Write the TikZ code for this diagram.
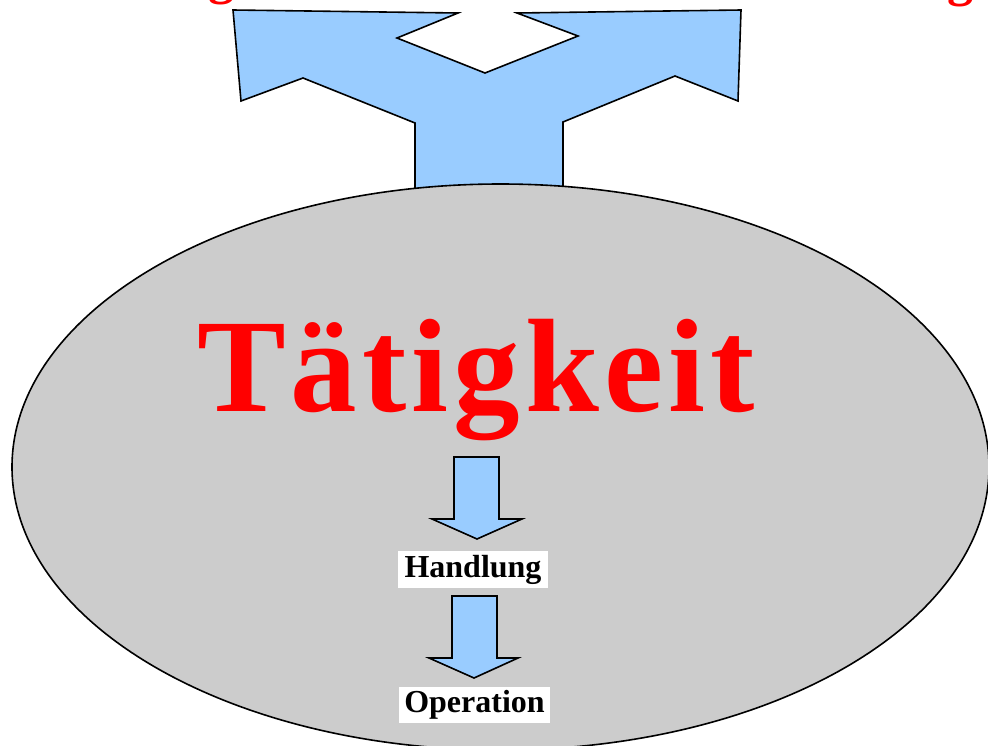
\documentclass[tikz,border=0pt]{standalone}
\usepackage{fontspec}
\setmainfont{Liberation Serif}
\usetikzlibrary{shapes.geometric}
\definecolor{arrowblue}{RGB}{153,204,255}
\definecolor{actgray}{RGB}{204,204,204}
\tikzset{
  arrowshape/.style={draw=black, fill=arrowblue, line width=1.6pt, line join=miter},
  actshape/.style={ellipse, draw=black, fill=actgray, line width=1.6pt, inner sep=0pt},
  label box/.style={fill=white, inner sep=0pt, font=\fontsize{32}{34}\selectfont\bfseries},
  redtitle/.style={text=red, font=\fontsize{133}{140}\selectfont\bfseries\addfontfeature{LetterSpace=3.8}},
  redpart/.style={text=red, font=\fontsize{52}{56}\selectfont\bfseries, inner sep=0pt, anchor=base}
}
\begin{document}
\begin{tikzpicture}[x=1pt, y=-1pt]
\useasboundingbox (0,0) rectangle (988,745);
\clip (0,0) rectangle (988,745);
% partially visible red words at the top
\node[redpart] (topleft) at (221,-7) {g};
\node[redpart] (topright) at (960,-5) {g};
% fork arrow behind the ellipse
\draw[arrowshape] (233,10) -- (458,13) -- (397,38) -- (485,73) -- (578,36) -- (517,13)
  -- (741,10) -- (738,101) -- (675,76) -- (563,122) -- (563,195) -- (415,195)
  -- (415,123) -- (303,78) -- (241,101) -- cycle;
% activity ellipse
\node[actshape, minimum width=977pt, minimum height=566pt] (act) at (500.5,467) {};
\node[redtitle, anchor=base] (title) at (476,411) {Tätigkeit};
% first down arrow
\draw[arrowshape] (454,457) -- (499,457) -- (499,519) -- (522,519) -- (477,539)
  -- (432,519) -- (454,519) -- cycle;
\node[label box, minimum width=150pt, minimum height=37pt] (hand) at (473,569.5) {Handlung};
% second down arrow
\draw[arrowshape] (452,596) -- (497,596) -- (497,658) -- (518,658) -- (474,678)
  -- (429,658) -- (452,658) -- cycle;
\node[label box, minimum width=151pt, minimum height=36pt] (oper) at (474.5,705) {Operation};
\end{tikzpicture}
\end{document}
